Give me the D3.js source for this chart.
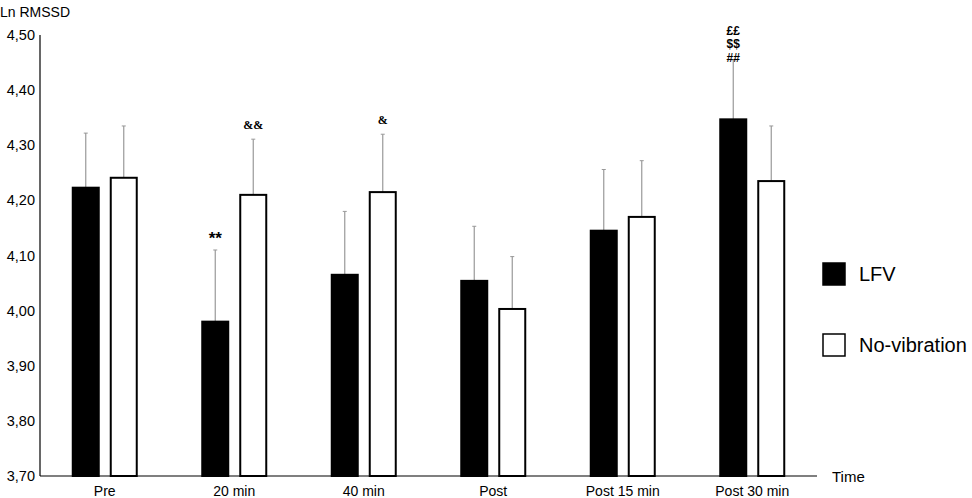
<!DOCTYPE html>
<html>
<head>
<meta charset="utf-8">
<script src="https://cdn.jsdelivr.net/npm/d3@7"></script>
<style>
  body { margin: 0; background: #fff; }
  text { font-family: "Liberation Sans", Arial, sans-serif; fill: #000; }
  .mark { font-weight: bold; }
</style>
</head>
<body>
<div id="chart"></div>
<script>
var categories = ["Pre", "20 min", "40 min", "Post", "Post 15 min", "Post 30 min"];
var lfv        = [4.223, 3.980, 4.065, 4.054, 4.145, 4.347];
var lfvErr     = [4.322, 4.110, 4.180, 4.153, 4.256, 4.455];
var noVib      = [4.241, 4.210, 4.215, 4.003, 4.170, 4.235];
var noVibErr   = [4.335, 4.311, 4.320, 4.098, 4.272, 4.335];
var yTicks     = [3.70, 3.80, 3.90, 4.00, 4.10, 4.20, 4.30, 4.40, 4.50];
// significance marks: [category index, series (0 = LFV, 1 = No-vibration), lines]
var marks = [
  [1, 0, ["**"]],
  [1, 1, ["&&"]],
  [2, 1, ["&"]],
  [5, 0, ["££", "$$", "##"]]
];
var seriesNames = ["LFV", "No-vibration"];

var width = 972, height = 498;
var margin = { top: 35, left: 40, bottom: 22 };
var plotRight = 817;

var svg = d3.select("#chart").append("svg")
  .attr("width", width)
  .attr("height", height);

var x = d3.scaleBand()
  .domain(categories)
  .range([margin.left, plotRight]);

var y = d3.scaleLinear()
  .domain([3.7, 4.5])
  .range([height - margin.bottom, margin.top]);

var barW = 28, gap = 5;
var fills = ["#000", "#fff"];
var series = [
  { vals: lfv, errs: lfvErr, off: -gap - barW },
  { vals: noVib, errs: noVibErr, off: gap }
];

// y tick labels
svg.append("g")
  .selectAll("text")
  .data(yTicks)
  .join("text")
  .attr("x", 35)
  .attr("y", function(d) { return y(d); })
  .attr("dy", "0.35em")
  .attr("text-anchor", "end")
  .style("font-size", "14.5px")
  .text(function(d) { return d.toFixed(2).replace(".", ","); });

svg.append("text")
  .attr("x", 0)
  .attr("y", 17)
  .style("font-size", "14px")
  .text("Ln RMSSD");

// bars + error bars
series.forEach(function(s, si) {
  var cx = function(i) { return x(categories[i]) + x.bandwidth() / 2 + s.off + barW / 2; };

  svg.append("g").selectAll("line")
    .data(s.errs)
    .join("line")
    .attr("x1", function(d, i) { return cx(i); })
    .attr("x2", function(d, i) { return cx(i); })
    .attr("y1", function(d, i) { return y(s.vals[i]); })
    .attr("y2", function(d) { return y(d); })
    .attr("stroke", "#999")
    .attr("stroke-width", 1.2);

  svg.append("g").selectAll("line")
    .data(s.errs)
    .join("line")
    .attr("x1", function(d, i) { return cx(i) - 2; })
    .attr("x2", function(d, i) { return cx(i) + 2; })
    .attr("y1", function(d) { return y(d); })
    .attr("y2", function(d) { return y(d); })
    .attr("stroke", "#999")
    .attr("stroke-width", 1);

  svg.append("g").selectAll("rect")
    .data(s.vals)
    .join("rect")
    .attr("x", function(d, i) { return x(categories[i]) + x.bandwidth() / 2 + s.off + 1; })
    .attr("y", function(d) { return y(d); })
    .attr("width", barW - 2)
    .attr("height", function(d) { return y(3.7) - y(d); })
    .attr("fill", fills[si])
    .attr("stroke", "#000")
    .attr("stroke-width", 2);
});

// axes lines
svg.append("line")
  .attr("x1", margin.left).attr("x2", margin.left)
  .attr("y1", y(4.5)).attr("y2", y(3.7))
  .attr("stroke", "#000").attr("stroke-width", 1.2);
svg.append("line")
  .attr("x1", margin.left).attr("x2", plotRight)
  .attr("y1", y(3.7)).attr("y2", y(3.7))
  .attr("stroke", "#000").attr("stroke-width", 1.2);

// x labels
svg.append("g").selectAll("text")
  .data(categories)
  .join("text")
  .attr("x", function(d) { return x(d) + x.bandwidth() / 2; })
  .attr("y", 496)
  .attr("text-anchor", "middle")
  .style("font-size", "14px")
  .text(function(d) { return d; });

svg.append("text")
  .attr("x", 832)
  .attr("y", 482)
  .style("font-size", "15px")
  .text("Time");

// significance marks
marks.forEach(function(m) {
  var s = series[m[1]];
  var cx = x(categories[m[0]]) + x.bandwidth() / 2 + s.off + barW / 2;
  var top = y(s.errs[m[0]]);
  var n = m[2].length;
  m[2].forEach(function(t, k) {
    var isStar = t.indexOf("*") >= 0;
    var isAmp = t.indexOf("&") >= 0;
    var base = n > 1 ? top + 2 - (n - 1 - k) * 13.5 : top - (isStar ? 6 : 10);
    svg.append("text")
      .attr("class", "mark")
      .attr("x", cx)
      .attr("y", base)
      .attr("text-anchor", "middle")
      .style("font-size", isStar ? "17px" : "12px")
      .style("font-family", isAmp ? "Liberation Serif, Times New Roman, serif" : null)
      .text(t);
  });
});

// legend
var legend = svg.append("g").selectAll("g")
  .data(seriesNames)
  .join("g")
  .attr("transform", function(d, i) { return "translate(822," + (262 + i * 71) + ")"; });
legend.append("rect")
  .attr("x", 1).attr("y", 1)
  .attr("width", 22).attr("height", 22)
  .attr("fill", function(d, i) { return fills[i]; })
  .attr("stroke", "#000")
  .attr("stroke-width", 1.5);
legend.append("text")
  .attr("x", 37)
  .attr("y", 12)
  .attr("dy", "0.35em")
  .style("font-size", "20px")
  .text(function(d) { return d; });
</script>
</body>
</html>
